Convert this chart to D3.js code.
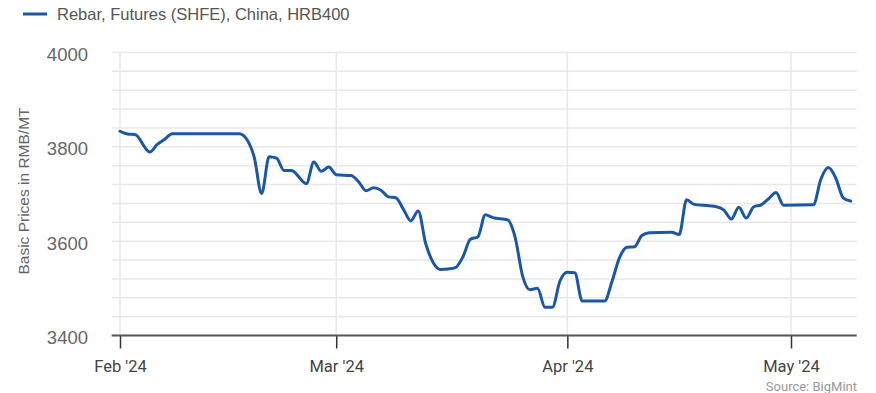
<!DOCTYPE html>
<html>
<head>
<meta charset="utf-8">
<script src="https://cdn.jsdelivr.net/npm/d3@7"></script>
<style>
  html, body { margin: 0; padding: 0; background: #fff; }
  svg { display: block; }
</style>
</head>
<body>
<svg id="chart" width="876" height="393"></svg>
<script>
const seriesName = "Rebar, Futures (SHFE), China, HRB400";
const yTitle = "Basic Prices in RMB/MT";
const sourceText = "Source: BigMint";
const dates = ["2024-02-01","2024-02-02","2024-02-03","2024-02-05","2024-02-06","2024-02-07","2024-02-08","2024-02-17","2024-02-18","2024-02-19","2024-02-20","2024-02-21","2024-02-22","2024-02-23","2024-02-24","2024-02-26","2024-02-27","2024-02-28","2024-02-29","2024-03-01","2024-03-03","2024-03-04","2024-03-05","2024-03-06","2024-03-07","2024-03-08","2024-03-09","2024-03-10","2024-03-11","2024-03-12","2024-03-13","2024-03-14","2024-03-15","2024-03-16","2024-03-17","2024-03-18","2024-03-19","2024-03-20","2024-03-21","2024-03-22","2024-03-24","2024-03-25","2024-03-26","2024-03-27","2024-03-28","2024-03-29","2024-03-30","2024-03-31","2024-04-01","2024-04-02","2024-04-03","2024-04-06","2024-04-07","2024-04-08","2024-04-09","2024-04-10","2024-04-11","2024-04-12","2024-04-15","2024-04-16","2024-04-17","2024-04-18","2024-04-20","2024-04-21","2024-04-22","2024-04-23","2024-04-24","2024-04-25","2024-04-26","2024-04-27","2024-04-28","2024-04-29","2024-04-30","2024-05-04","2024-05-05","2024-05-06","2024-05-07","2024-05-08","2024-05-09"];
const prices = [3833,3827,3826,3789,3805,3816,3828,3828,3816,3778,3701,3779,3776,3750,3750,3722,3768,3748,3757,3741,3739,3726,3707,3713,3708,3694,3692,3668,3643,3664,3595,3555,3540,3541,3544,3567,3604,3609,3656,3650,3645,3608,3526,3497,3500,3460,3460,3515,3534,3533,3473,3473,3515,3565,3587,3588,3612,3618,3619,3614,3688,3678,3675,3673,3666,3647,3672,3649,3673,3677,3690,3703,3676,3677,3731,3756,3734,3692,3685];
const xTickDates = ["2024-02-01","2024-03-01","2024-04-01","2024-05-01"];
const yTicks = [3400,3600,3800,4000];
const yDomain = [3400, 4000];
const gridStep = 40;

const parse = d3.utcParse("%Y-%m-%d");
const data = dates.map((d, i) => ({date: parse(d), value: prices[i]}));

const svg = d3.select("#chart");
const plot = {left: 111.7, right: 856.7, top: 52.5, bottom: 335.5};

const x = d3.scaleUtc()
  .domain([parse("2024-02-01"), parse("2024-05-01")])
  .range([120, 791]);
const y = d3.scaleLinear().domain(yDomain).range([plot.bottom, plot.top]);

svg.append("rect").attr("width", 876).attr("height", 393).attr("fill", "#fff");

// horizontal grid
const gridVals = d3.range(yDomain[0] + gridStep, yDomain[1] + 1, gridStep);
svg.append("g").selectAll("line").data(gridVals).join("line")
  .attr("x1", plot.left).attr("x2", plot.right)
  .attr("y1", d => y(d)).attr("y2", d => y(d))
  .attr("stroke", "#e8e8e8").attr("stroke-width", 1.5);

// vertical grid
const xTicks = xTickDates.map(parse);
svg.append("g").selectAll("line").data(xTicks).join("line")
  .attr("x1", d => x(d)).attr("x2", d => x(d))
  .attr("y1", plot.top).attr("y2", plot.bottom)
  .attr("stroke", "#e8e8e8").attr("stroke-width", 1.5);

// x axis
const xAxis = d3.axisBottom(x).tickValues(xTicks).tickFormat(d3.utcFormat("%b '%y")).tickSize(13).tickPadding(12);
const gx = svg.append("g").attr("transform", `translate(0,${plot.bottom})`).call(xAxis);
gx.select(".domain").remove();
gx.selectAll(".tick line").attr("stroke", "#333").attr("stroke-width", 1.5);
gx.selectAll(".tick text").attr("font-family", "Roboto, sans-serif").attr("font-size", "16.5px").attr("fill", "#444");
svg.append("line").attr("x1", plot.left).attr("x2", plot.right)
  .attr("y1", plot.bottom).attr("y2", plot.bottom)
  .attr("stroke", "#555").attr("stroke-width", 2);

// y axis labels
svg.append("g").selectAll("text").data(yTicks).join("text")
  .attr("x", 88).attr("y", d => y(d) + 8.5)
  .attr("text-anchor", "end")
  .attr("font-family", "'Liberation Sans', Arial, sans-serif")
  .attr("font-size", "18.5px").attr("fill", "#666")
  .text(d => d);

// y title
svg.append("text")
  .attr("transform", "translate(28.5,191) rotate(-90)")
  .attr("text-anchor", "middle")
  .attr("font-family", "'Liberation Sans', Arial, sans-serif")
  .attr("font-size", "15.5px").attr("fill", "#666")
  .text(yTitle);

// line
const line = d3.line().x(d => x(d.date)).y(d => y(d.value)).curve(d3.curveMonotoneX);
svg.append("path").datum(data)
  .attr("d", line).attr("fill", "none")
  .attr("stroke", "#1c57a5").attr("stroke-width", 3)
  .attr("stroke-linejoin", "round").attr("stroke-linecap", "round");

// legend
svg.append("line").attr("x1", 23).attr("x2", 47).attr("y1", 14).attr("y2", 14)
  .attr("stroke", "#1c57a5").attr("stroke-width", 3);
svg.append("text").attr("x", 57).attr("y", 19.5)
  .attr("font-family", "'Liberation Sans', Arial, sans-serif")
  .attr("font-size", "16.5px").attr("fill", "#555")
  .text(seriesName);

// source
svg.append("text").attr("x", 857).attr("y", 391)
  .attr("text-anchor", "end")
  .attr("font-family", "Roboto, sans-serif")
  .attr("font-size", "13px").attr("fill", "#999")
  .text(sourceText);
</script>
</body>
</html>
